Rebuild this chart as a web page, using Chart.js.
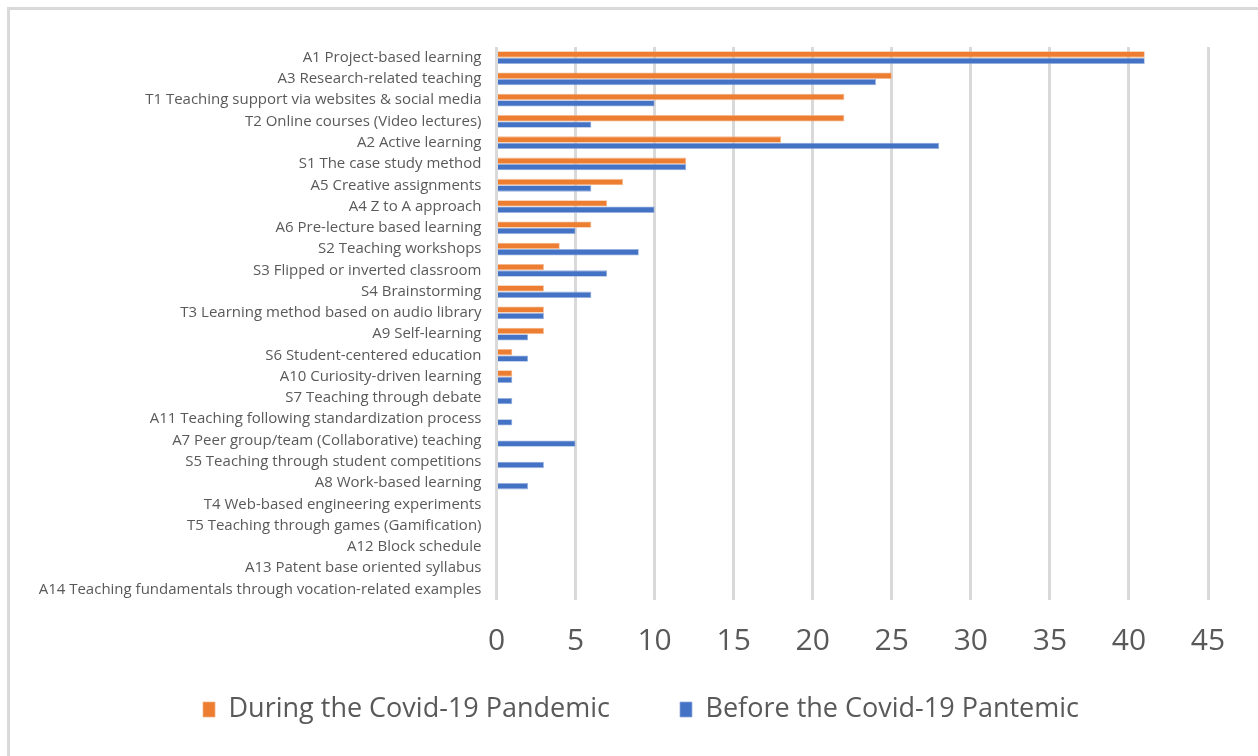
<!DOCTYPE html>
<html>
<head>
<meta charset="utf-8">
<script src="https://cdn.jsdelivr.net/npm/chart.js@4.4.1/dist/chart.umd.min.js"></script>
<style>
  html, body { margin: 0; padding: 0; background: #ffffff; }
  body { width: 1258px; height: 756px; position: relative; overflow: hidden; }
  #frame { position: absolute; left: 7px; top: 7px; width: 1260px; height: 760px;
           border-left: 3px solid #d9d9d9; border-top: 3px solid #d9d9d9; box-sizing: border-box; }
  #wrap { position: absolute; left: 0; top: 0; width: 1258px; height: 756px; }
</style>
</head>
<body>
<div id="frame"></div>
<div id="wrap"><canvas id="chart" width="1258" height="756"></canvas></div>
<script>
// Teaching methods, ordered by use during the pandemic
const categories = [
  "A1 Project-based learning",
  "A3 Research-related teaching",
  "T1 Teaching support via websites & social media",
  "T2 Online courses (Video lectures)",
  "A2 Active learning",
  "S1 The case study method",
  "A5 Creative assignments",
  "A4 Z to A approach",
  "A6 Pre-lecture based learning",
  "S2 Teaching workshops",
  "S3 Flipped or inverted classroom",
  "S4 Brainstorming",
  "T3 Learning method based on audio library",
  "A9 Self-learning",
  "S6 Student-centered education",
  "A10 Curiosity-driven learning",
  "S7 Teaching through debate",
  "A11 Teaching following standardization process",
  "A7 Peer group/team (Collaborative) teaching",
  "S5 Teaching through student competitions",
  "A8 Work-based learning",
  "T4 Web-based engineering experiments",
  "T5 Teaching through games (Gamification)",
  "A12 Block schedule",
  "A13 Patent base oriented syllabus",
  "A14 Teaching fundamentals through vocation-related examples"
];

const duringPandemic = [41, 25, 22, 22, 18, 12, 8, 7, 6, 4, 3, 3, 3, 3, 1, 1, 0, 0, 0, 0, 0, 0, 0, 0, 0, 0];
const beforePandemic = [41, 24, 10, 6, 28, 12, 6, 10, 5, 9, 7, 6, 3, 2, 2, 1, 1, 1, 5, 3, 2, 0, 0, 0, 0, 0];

const seriesNames = ["During the Covid-19 Pandemic", "Before the Covid-19 Pantemic"];
const xTickValues = [0, 5, 10, 15, 20, 25, 30, 35, 40, 45];

const ORANGE = "#ed7d31";
const BLUE = "#4472c4";
const TEXT = "#595959";
const GRID = "#d9d9d9";
const FONT = "'Open Sans', sans-serif";

const LEGEND_GAP = 70;      // space between the two legend entries
const LEGEND_HEIGHT = 86;   // reserved band under the axis
const LEGEND_SHIFT_X = 37;  // nudges of the legend row
const LEGEND_SHIFT_Y = -44;

// Fixes the legend band height and nudges the row into place
const legendBand = {
  id: "legendBand",
  beforeUpdate(chart) {
    const lg = chart.legend;
    if (!lg || lg._banded) return;
    const fit = lg.fit.bind(lg);
    lg.fit = function () { fit(); this.height = LEGEND_HEIGHT; };
    lg.draw = function () {
      if (!this.options.display) return;
      const c = this.ctx;
      c.save();
      c.translate(LEGEND_SHIFT_X, LEGEND_SHIFT_Y);
      this._draw();
      c.restore();
    };
    lg._banded = true;
  }
};

new Chart(document.getElementById("chart"), {
  type: "bar",
  data: {
    labels: categories,
    datasets: [
      { label: seriesNames[0], data: duringPandemic, backgroundColor: ORANGE,
        borderColor: "rgba(244,177,131,0.9)", borderWidth: 0.8 },
      { label: seriesNames[1], data: beforePandemic, backgroundColor: BLUE,
        borderColor: "rgba(143,170,220,0.9)", borderWidth: 0.8 }
    ]
  },
  plugins: [legendBand],
  options: {
    indexAxis: "y",
    responsive: false,
    animation: false,
    devicePixelRatio: 1,
    layout: { padding: { left: 0, right: 50, top: 47, bottom: 0 } },
    datasets: { bar: { categoryPercentage: 0.6, barPercentage: 1.0 } },
    scales: {
      x: {
        min: 0,
        max: 45,
        afterBuildTicks: (scale) => { scale.ticks = xTickValues.map(v => ({ value: v })); },
        grid: { color: GRID, lineWidth: 3, drawTicks: false },
        border: { display: false },
        ticks: {
          color: TEXT,
          font: { family: FONT, size: 30 },
          padding: 23
        },
        afterFit: (scale) => { scale.height = 70; }
      },
      y: {
        grid: { display: false },
        border: { display: false },
        ticks: {
          color: TEXT,
          font: { family: FONT, size: 15 },
          padding: 7,
          autoSkip: false
        },
        afterFit: (scale) => { scale.width = 496.5; }
      }
    },
    plugins: {
      tooltip: { enabled: false },
      legend: {
        position: "bottom",
        labels: {
          color: TEXT,
          font: { family: FONT, size: 27 },
          boxWidth: 12,
          boxHeight: 15,
          padding: LEGEND_GAP
        }
      }
    }
  }
});
</script>
</body>
</html>
